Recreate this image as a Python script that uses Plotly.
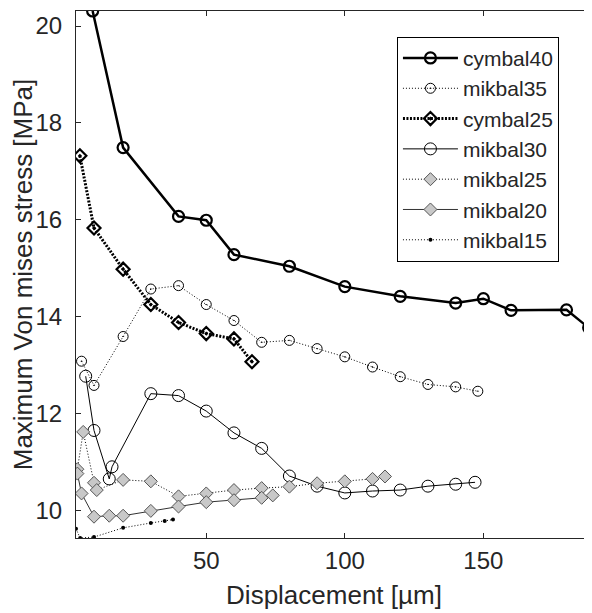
import plotly.graph_objects as go

# ---- data ----
cymbal40_x = [9, 20, 40, 50, 60, 80, 100, 120, 140, 150, 160, 180, 188]
cymbal40_y = [20.31, 17.49, 16.07, 15.99, 15.28, 15.04, 14.62, 14.42, 14.28, 14.37, 14.13, 14.14, 13.77]

mikbal35_x = [5, 9.5, 20, 30, 40, 50, 60, 70, 80, 90, 100, 110, 120, 130, 140, 148]
mikbal35_y = [13.08, 12.58, 13.59, 14.57, 14.64, 14.25, 13.92, 13.47, 13.51, 13.34, 13.17, 12.96, 12.76, 12.60, 12.55, 12.46]

cymbal25_x = [4.4, 9.5, 20, 30, 40, 50, 60, 66.5]
cymbal25_y = [17.32, 15.83, 14.98, 14.25, 13.88, 13.65, 13.54, 13.07]

mikbal30_x = [6.5, 9.5, 15, 16, 30, 40, 50, 60, 70, 80, 90, 100, 110, 120, 130, 140, 147]
mikbal30_y = [12.77, 11.65, 10.65, 10.90, 12.41, 12.37, 12.05, 11.60, 11.28, 10.71, 10.50, 10.36, 10.40, 10.42, 10.50, 10.54, 10.58]

mikbal25_x = [3.5, 5.6, 9.5, 10.5, 20, 30, 40, 50, 60, 70, 80, 90, 100, 110, 114.5]
mikbal25_y = [10.85, 11.62, 10.57, 10.42, 10.63, 10.60, 10.29, 10.35, 10.42, 10.46, 10.49, 10.56, 10.60, 10.65, 10.70]

mikbal20_x = [3.5, 5, 9.5, 15, 20, 30, 40, 50, 60, 70, 74]
mikbal20_y = [10.76, 10.35, 9.87, 9.89, 9.89, 9.99, 10.08, 10.17, 10.21, 10.26, 10.31]

mikbal15_x = [3, 4.5, 9.5, 20, 30, 35, 38]
mikbal15_y = [9.62, 9.43, 9.45, 9.64, 9.74, 9.78, 9.81]

x_ticks = [50, 100, 150]
y_ticks = [10, 12, 14, 16, 18, 20]
x_title = "Displacement [µm]"
y_title = "Maximum Von mises stress [MPa]"

FONT = "Liberation Sans, Arial, sans-serif"
INK = "#262626"
GRAYFILL = "#c8c8c8"
GRAYEDGE = "#555555"

fig = go.Figure()

fig.add_trace(go.Scatter(
    x=cymbal40_x, y=cymbal40_y, name="cymbal40", mode="lines+markers",
    line=dict(color="black", width=2.5),
    marker=dict(symbol="circle-open", size=11, color="black", line=dict(width=2.2))))

fig.add_trace(go.Scatter(
    x=mikbal35_x, y=mikbal35_y, name="mikbal35", mode="lines+markers",
    line=dict(color="black", width=1, dash="1px,2px"),
    marker=dict(symbol="circle-open-dot", size=10, color="black", line=dict(width=1))))

fig.add_trace(go.Scatter(
    x=cymbal25_x, y=cymbal25_y, name="cymbal25", mode="lines+markers",
    line=dict(color="black", width=3, dash="2px,1.5px"),
    marker=dict(symbol="diamond-open-dot", size=10, color="black", line=dict(width=2.2))))

fig.add_trace(go.Scatter(
    x=mikbal30_x, y=mikbal30_y, name="mikbal30", mode="lines+markers",
    line=dict(color="black", width=1),
    marker=dict(symbol="circle", size=12, color="rgba(0,0,0,0)", line=dict(width=1, color="black"))))

fig.add_trace(go.Scatter(
    x=mikbal25_x, y=mikbal25_y, name="mikbal25", mode="lines+markers",
    line=dict(color="black", width=1, dash="1px,2px"),
    marker=dict(symbol="diamond", size=10, color=GRAYFILL, line=dict(width=1, color=GRAYEDGE))))

fig.add_trace(go.Scatter(
    x=mikbal20_x, y=mikbal20_y, name="mikbal20", mode="lines+markers",
    line=dict(color="#333333", width=1),
    marker=dict(symbol="diamond", size=10, color=GRAYFILL, line=dict(width=1, color=GRAYEDGE))))

fig.add_trace(go.Scatter(
    x=mikbal15_x, y=mikbal15_y, name="mikbal15", mode="lines+markers",
    line=dict(color="black", width=1, dash="1px,2px"),
    marker=dict(symbol="circle", size=4, color="black")))

# the page body adds an 8 px offset, so the figure is 8 px smaller and margins compensate
fig.update_layout(
    width=584, height=605,
    margin=dict(l=68, r=0, t=3, b=75),
    paper_bgcolor="white", plot_bgcolor="white",
    font=dict(family=FONT, size=22, color=INK),
    showlegend=True,
    legend=dict(
        x=0.622, y=0.951, xanchor="left", yanchor="top",
        bgcolor="white", bordercolor="black", borderwidth=1,
        font=dict(family=FONT, size=21, color=INK),
        tracegroupgap=0, itemwidth=55,
        entrywidth=125, entrywidthmode="pixels",
    ),
)

fig.update_xaxes(
    range=[3, 189.2], tickvals=x_ticks, ticktext=[str(v) for v in x_ticks],
    automargin=False,
    showgrid=False, zeroline=False,
    showline=True, linecolor=INK, linewidth=1, mirror="ticks",
    ticks="inside", ticklen=5, tickcolor=INK, tickwidth=1,
    tickfont=dict(family=FONT, size=24, color=INK), ticklabelstandoff=1,
    title=dict(text=x_title, font=dict(family=FONT, size=26, color=INK), standoff=13),
)
fig.update_yaxes(
    range=[9.43, 20.31], tickvals=y_ticks, ticktext=[str(v) for v in y_ticks],
    automargin=False,
    showgrid=False, zeroline=False,
    showline=True, linecolor=INK, linewidth=1, mirror="ticks",
    ticks="inside", ticklen=5, tickcolor=INK, tickwidth=1,
    tickfont=dict(family=FONT, size=24, color=INK), ticklabelstandoff=8,
    title=dict(text=y_title, font=dict(family=FONT, size=26, color=INK), standoff=9),
)

fig.write_html("out.html")
